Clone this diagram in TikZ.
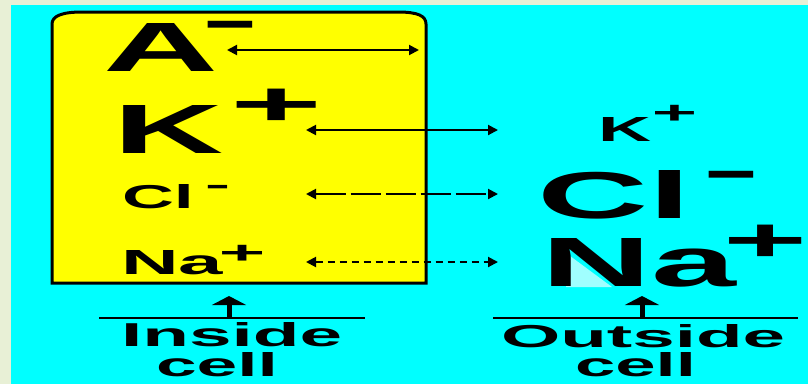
\documentclass[tikz,border=0pt]{standalone}
\usepackage{fontspec}
\setmainfont{Liberation Sans}
\usetikzlibrary{arrows.meta}
\definecolor{paper}{RGB}{232,240,214}
\definecolor{sea}{RGB}{0,255,255}
\definecolor{cellyellow}{RGB}{255,255,0}
\definecolor{paleaqua}{RGB}{160,255,255}
% bold word stretched to a given width and height (pt)
\newcommand{\fitword}[3]{\resizebox{#1pt}{#2pt}{\bfseries #3}}
% charge signs stretched to a given box
\newcommand{\plussign}[2]{\resizebox{#1pt}{#2pt}{\bfseries +}}
\newcommand{\minussign}[2]{\resizebox{#1pt}{#2pt}{\bfseries −}}
\tikzset{
  lbl/.style={inner sep=0pt, outer sep=0pt, anchor=south west},
  sgn/.style={inner sep=0pt, outer sep=0pt, anchor=north},
  flux/.style={line width=2pt, {Triangle[length=10pt,width=10pt]}-{Triangle[length=10pt,width=10pt]}},
  upmark/.style={line width=5pt, -{Triangle[length=9pt,width=34pt]}},
  divider/.style={line width=2pt},
}
\begin{document}
\begin{tikzpicture}[x=1pt,y=-1pt]
\useasboundingbox (0,0) rectangle (808,384);
% backdrop
\fill[paper] (0,0) rectangle (808,384);
\fill[sea] (11,5) rectangle (808,384);

% the cell
\draw[line width=3pt, fill=cellyellow] (52,283) -- (52,24)
  .. controls (52,16) and (62,12) .. (82,12) -- (398,12)
  .. controls (418,12) and (426,16) .. (426,24) -- (426,283) -- cycle;

% ions inside
\node[lbl] (Aion) at (103,71) {\fitword{115}{48}{A}};
\node[sgn] (Asgn) at (230,21) {\minussign{51.8}{24.2}};
\node[lbl] (Kin) at (113,153) {\fitword{110}{48}{K}};
\node[sgn] (Ksgn) at (276.5,89) {\plussign{92}{36.4}};
\node[lbl] (Clin) at (122,209) {\fitword{72}{24}{Cl}};
\node[sgn] (Clsgn) at (217.5,185) {\minussign{22.4}{12.1}};
\node[lbl] (Nain) at (121,275) {\fitword{102}{24}{Na}};
\node[sgn] (Nasgn) at (242,245) {\plussign{46.5}{18.2}};

% ions outside
\fill[paleaqua] (566,253) -- (566,287) -- (612,287) -- cycle;
\node[lbl] (Kout) at (598,141) {\fitword{53}{24}{K}};
\node[sgn] (Koutsgn) at (674.5,105) {\plussign{45.3}{18.2}};
\node[lbl] (Clout) at (537,219) {\fitword{154}{48}{Cl}};
\node[sgn] (Cloutsgn) at (731,171) {\minussign{51.8}{24.2}};
\node[lbl] (Naout) at (541,287) {\fitword{195}{48}{Na}};
\node[sgn] (Naoutsgn) at (766,225) {\plussign{84}{36.4}};

% captions
\node[lbl] (inside) at (121,347) {\fitword{221}{24}{Inside}};
\node[lbl] (insidecell) at (156,377) {\fitword{122}{24}{cell}};
\node[lbl] (outside) at (501,348) {\fitword{284}{23}{Outside}};
\node[lbl] (outsidecell) at (575,377) {\fitword{121}{24}{cell}};

% exchange arrows
\coordinate (aL) at (227,50);  \coordinate (aR) at (419,50);
\coordinate (kL) at (306,130); \coordinate (kR) at (498,130);
\coordinate (cL) at (306,194); \coordinate (cR) at (498,194);
\coordinate (nL) at (306,262); \coordinate (nR) at (498,262);
\draw[flux] (aL) -- (aR);
\draw[flux] (kL) -- (kR);
\draw[flux, dash pattern=on 30pt off 5pt] (cL) -- (cR);
\draw[flux, dash pattern=on 7pt off 5pt] (nL) -- (nR);

% pointers to each side
\coordinate (inRuleL) at (99,318);   \coordinate (inRuleR) at (365,318);
\coordinate (outRuleL) at (493,318); \coordinate (outRuleR) at (798,318);
\coordinate (inBase) at (229,318);   \coordinate (inTip) at (229,296);
\coordinate (outBase) at (642,318);  \coordinate (outTip) at (642,296);
\draw[divider] (inRuleL) -- (inRuleR);
\draw[divider] (outRuleL) -- (outRuleR);
\draw[upmark] (inBase) -- (inTip);
\draw[upmark] (outBase) -- (outTip);
\end{tikzpicture}
\end{document}
